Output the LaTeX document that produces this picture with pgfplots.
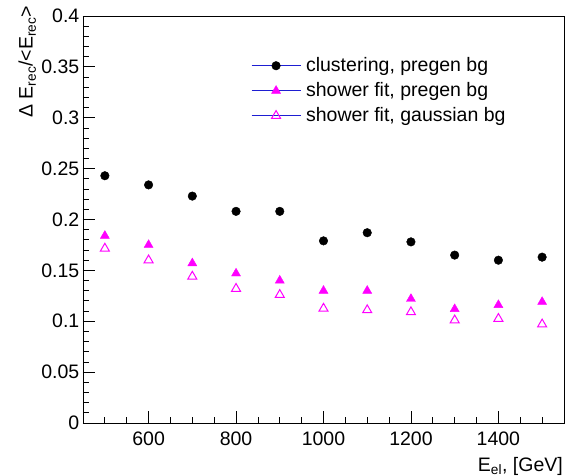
\documentclass[border=0pt]{standalone}
\usepackage{fontspec}
\setmainfont{Liberation Sans}
\usepackage{pgfplots}
\pgfplotsset{compat=1.18}
\definecolor{rootmag}{RGB}{255,0,255}
\definecolor{legblue}{RGB}{30,30,210}
\begin{document}
\begin{tikzpicture}[font=\fontsize{19.5}{22}\selectfont]
\path[use as bounding box] (-83pt,-53pt) rectangle (483pt,423pt);
\begin{axis}[
  at={(0pt,0pt)}, anchor=south west,
  scale only axis, width=481pt, height=407pt,
  xmin=450, xmax=1550, ymin=0, ymax=0.4,
  xtick={600,800,1000,1200,1400},
  xticklabels={600,800,1000,1200,1400},
  minor xtick={450,500,...,1550},
  ytick={0,0.05,0.1,0.15,0.2,0.25,0.3,0.35,0.4},
  yticklabels={0,0.05,0.1,0.15,0.2,0.25,0.3,0.35,0.4},
  minor ytick={0,0.01,...,0.4},
  tick pos=left, tick align=inside,
  major tick length=12pt, minor tick length=6pt,
  axis line style={line width=0.8pt},
  every tick/.style={black,line width=0.8pt},
  /pgf/number format/assume math mode=true,
  every tick label/.append style={inner sep=2pt},
  xticklabel style={yshift=-7pt},
  yticklabel style={xshift=-1.5pt},
  xlabel={E\textsubscript{el}, [GeV]},
  xlabel style={at={(axis description cs:1,0)}, anchor=north east, yshift=-34pt, xshift=-1pt, inner sep=0pt},
  ylabel={Δ E\textsubscript{rec}/<E\textsubscript{rec}>},
  ylabel style={at={(axis description cs:-0.116,1.03)}, anchor=east, inner sep=2pt},
  legend style={at={(axis description cs:0.349,0.909)}, anchor=north west, draw=none, fill=none,
    inner sep=0pt, row sep=0pt, nodes={inner sep=3pt, text height=15pt, text depth=4pt},
    /tikz/every odd column/.append style={column sep=2pt}},
  legend cell align=left,
  legend image code/.code={
    \draw[legblue,line width=1pt] (0pt,0pt) -- (49pt,0pt);
    \draw[mark repeat=2,mark phase=2,#1] plot coordinates {(0pt,0pt)(24.5pt,0pt)(49pt,0pt)};
  },
]
\addplot[only marks, mark=*, mark size=4.3pt, black] table {
x y
500 0.243
600 0.234
700 0.223
800 0.208
900 0.208
1000 0.179
1100 0.187
1200 0.178
1300 0.165
1400 0.160
1500 0.163
};
\addlegendentry{clustering, pregen bg}
\addplot[only marks, mark=triangle*, mark size=5.2pt, rootmag] table {
x y
500 0.184
600 0.175
700 0.157
800 0.147
900 0.140
1000 0.130
1100 0.130
1200 0.122
1300 0.112
1400 0.116
1500 0.119
};
\addlegendentry{shower fit, pregen bg}
\addplot[only marks, mark=triangle, mark size=5.2pt, rootmag, mark options={line width=1pt}] table {
x y
500 0.1715
600 0.160
700 0.144
800 0.132
900 0.126
1000 0.1125
1100 0.111
1200 0.109
1300 0.101
1400 0.1025
1500 0.097
};
\addlegendentry{shower fit, gaussian bg}
\end{axis}
\end{tikzpicture}
\end{document}
